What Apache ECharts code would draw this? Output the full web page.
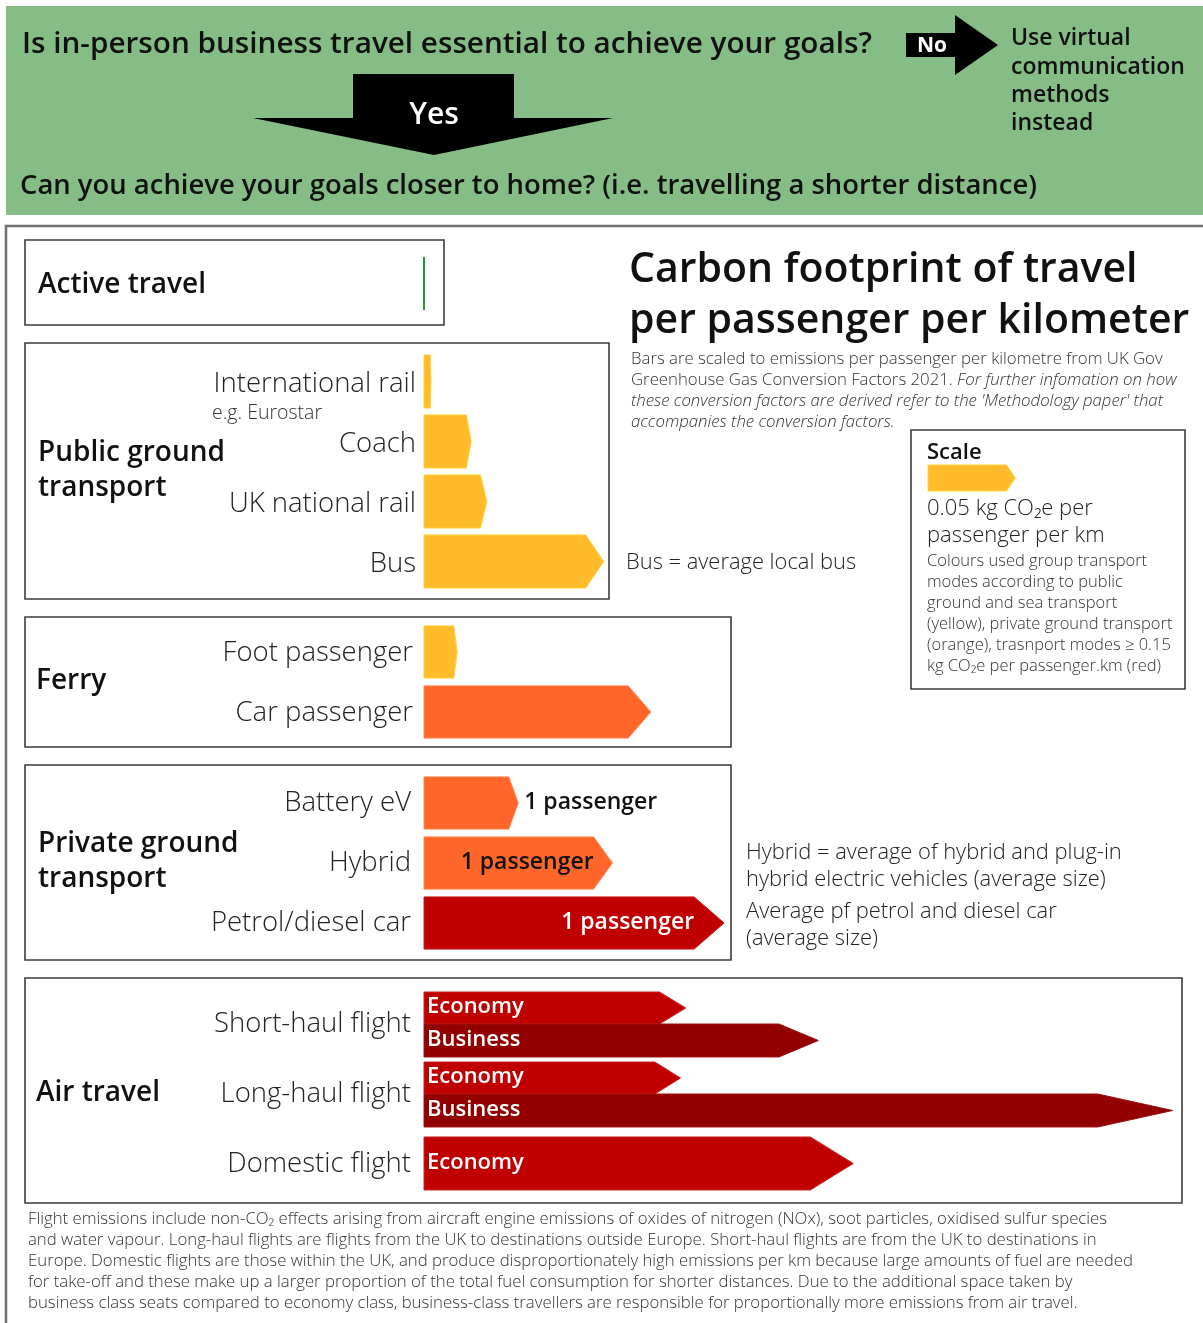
<!DOCTYPE html>
<html><head><meta charset="utf-8">
<script src="https://cdn.jsdelivr.net/npm/echarts/dist/echarts.min.js"></script>
<style>html,body{margin:0;padding:0;background:#fff}#c{width:1203px;height:1323px}</style>
</head><body><div id="c"></div><script>
// ---------------- DATA (kg CO2e per passenger-km) ----------------
const activeCats = ['Active travel'];
const activeVals = [0];
const publicCats = ['International rail', 'Coach', 'UK national rail', 'Bus'];
const publicVals = [0.004, 0.027, 0.036, 0.103];
const ferryCats = ['Foot passenger', 'Car passenger'];
const ferryVals = [0.019, 0.130];
const privateCats = ['Battery eV', 'Hybrid', 'Petrol/diesel car'];
const privateVals = [0.054, 0.108, 0.172];
const privateLabels = ['1 passenger', '1 passenger', '1 passenger'];
const airCats = ['Short-haul flight', 'Long-haul flight', 'Domestic flight'];
const airEconomy = [0.150, 0.147, 0.246];
const airBusiness = [0.226, 0.429, null];
const scaleCats = ['Scale'];
const scaleVals = [0.05];

// ---------------- STYLE ----------------
const FONT = '"Open Sans", "Noto Sans", sans-serif';
const YELLOW = '#FFBB2A', ORANGE = '#FF6629', RED = '#C00000', DARK = '#920000', GREEN = '#1E9B2A';
const publicColors = [YELLOW, YELLOW, YELLOW, YELLOW];
const ferryColors = [YELLOW, ORANGE];
const privateColors = [ORANGE, ORANGE, RED];
const privateLabelPos = ['outside', 'inside', 'inside'];
const privateLabelColors = ['#111', '#111', '#fff'];
const PX_PER_KG = 1745;
const GW = 770;            // main grids width (px)
const SW = 250;            // scale grid width (px)
const strokeOf = c => c === YELLOW ? '#FFD23A' : c === ORANGE ? '#FF8650' : c === RED ? '#CC2020' : '#A01010';

function arrowPts(x0, x1, top, bot) {
  const L = x1 - x0, xb = x0 + 0.9 * L, mid = (top + bot) / 2;
  return [[x0, top], [xb, top], [x1, mid], [xb, bot], [x0, bot]];
}
function txt(text, x, y, size, weight, fill, align, noShift) {
  return {
    text: text, x: x, y: y + (noShift ? 0 : 0.07 * size), fill: fill, fontSize: size, fontWeight: weight, fontFamily: FONT,
    align: align || 'left', verticalAlign: 'middle', textAlign: align || 'left', textVerticalAlign: 'middle'
  };
}
function makeRender(cfg) {
  return function (params, api) {
    const v = api.value(0), c = api.value(1);
    if (v == null || isNaN(v)) return null;
    const p0 = api.coord([0, c]), p1 = api.coord([v, c]);
    const band = api.size([0, 1])[1];
    let top, bot;
    if (cfg.slot) { const s = cfg.slot(c, p0[1], band); top = s[0]; bot = s[1]; }
    else { const h = band * cfg.fill; top = p0[1] - h / 2; bot = p0[1] + h / 2; }
    const color = cfg.colors ? cfg.colors[c] : cfg.color;
    const children = [];
    if (v === 0) {
      children.push({ type: 'line', shape: { x1: p0[0], y1: top, x2: p0[0], y2: bot }, style: { stroke: color, lineWidth: 2 } });
    } else {
      children.push({ type: 'polygon', shape: { points: arrowPts(p0[0], p1[0], top, bot) },
        style: { fill: color, stroke: strokeOf(color), lineWidth: 1 } });
    }
    const mid = (top + bot) / 2;
    if (cfg.labels && cfg.labels[c]) {
      const L = p1[0] - p0[0];
      if (cfg.labelPos[c] === 'outside') {
        children.push({ type: 'text', style: txt(cfg.labels[c], p1[0] + 6, mid - 1, 23, 600, cfg.labelColors[c], 'left', true) });
      } else {
        children.push({ type: 'text', style: txt(cfg.labels[c], p0[0] + 0.9 * L, mid - 1, 23, 600, cfg.labelColors[c], 'right', true) });
      }
    }
    if (cfg.name) {
      children.push({ type: 'text', style: txt(cfg.name, p0[0] + 3, mid - 1, 22, 600, '#fff', 'left', true) });
    }
    return { type: 'group', children: children };
  };
}

const grids = [
  { left: 424, width: GW, top: 257, height: 53 },      // active
  { left: 424, width: GW, top: 351.5, height: 240 },   // public
  { left: 424, width: GW, top: 622, height: 120 },     // ferry
  { left: 424, width: GW, top: 773, height: 180 },     // private
  { left: 424, width: GW, top: 989, height: 210 },     // air
  { left: 928, width: SW, top: 465, height: 26 }       // scale
];
const catLists = [activeCats, publicCats, ferryCats, privateCats, airCats, scaleCats];
const margins = [0, 8, 11, 13, 13, 0];
const labelPadTop = [0, 6, 2, 1, 0, 0];
const xAxes = grids.map((g, k) => ({ type: 'value', gridIndex: k, min: 0, max: g.width / PX_PER_KG, show: false }));
const yAxes = grids.map((g, k) => ({
  type: 'category', gridIndex: k, data: catLists[k], inverse: true,
  axisLine: { show: false }, axisTick: { show: false }, splitLine: { show: false },
  axisLabel: {
    show: k >= 1 && k <= 4, margin: margins[k],
    formatter: v => '{a|' + v + '}',
    rich: { a: { padding: [labelPadTop[k], 0, 0, 0], fontSize: 27.5, fontWeight: 300, fontFamily: FONT, color: '#222' } },
    fontSize: 27.5, fontWeight: 300, fontFamily: FONT, color: '#222'
  }
}));
function ser(k, vals, cfg, name) {
  return {
    type: 'custom', name: name, coordinateSystem: 'cartesian2d', xAxisIndex: k, yAxisIndex: k,
    encode: { x: 0, y: 1 }, clip: false, z: 5,
    data: vals.map((v, i) => [v, i]).filter(d => d[0] != null),
    renderItem: makeRender(cfg)
  };
}
const series = [
  ser(0, activeVals, { colors: [GREEN], fill: 1 }),
  ser(1, publicVals, { colors: publicColors, fill: 0.885 }),
  ser(2, ferryVals, { colors: ferryColors, fill: 0.87 }),
  ser(3, privateVals, { colors: privateColors, fill: 0.87, labels: privateLabels, labelPos: privateLabelPos, labelColors: privateLabelColors }),
  ser(4, airEconomy, { color: RED, name: 'Economy',
    slot: (c, cy, band) => airBusiness[c] != null ? [cy - 0.457 * band, cy] : [cy - 0.386 * band, cy + 0.371 * band] }, 'Economy'),
  ser(4, airBusiness, { color: DARK, name: 'Business', slot: (c, cy, band) => [cy, cy + 0.471 * band] }, 'Business'),
  ser(5, scaleVals, { colors: [YELLOW], fill: 1 })
];

// ---------------- GRAPHICS (layout, boxes, text) ----------------
function T(text, x, y, size, weight, fill, extra) {
  return { type: 'text', z: 10, style: Object.assign(txt(text, x, y, size, weight, fill || '#111', 'left'), extra || {}) };
}
function box(x1, y1, x2, y2, color, lw) {
  return { type: 'rect', z: 1, shape: { x: x1, y: y1, width: x2 - x1, height: y2 - y1 }, style: { fill: null, stroke: color || '#3c3c3c', lineWidth: lw || 1.6 } };
}
const grey = '#333';
const SUB = 16.75, FOOT = 16.75, NOTE = 21.9;
const it = { fontSize: SUB, fontWeight: 300, fontStyle: 'italic', fontFamily: FONT, fill: grey, color: grey };
const nm = { fontSize: SUB, fontWeight: 300, fontFamily: FONT, fill: grey, color: grey };
const graphics = [
  { type: 'rect', z: 0, shape: { x: 6, y: 6, width: 1197, height: 209 }, style: { fill: '#86BC86' } },
  { type: 'polygon', z: 2, shape: { points: [[353, 74], [514, 74], [514, 118], [613, 118], [434, 155], [253, 118], [353, 118]] }, style: { fill: '#000' } },
  { type: 'polygon', z: 2, shape: { points: [[906, 33], [955, 33], [955, 15], [998, 45], [955, 75], [955, 57], [906, 57]] }, style: { fill: '#000' } },
  T('Is in-person business travel essential to achieve your goals?', 22, 42, 29.7, 600, '#111'),
  T('Yes', 434, 113, 30, 600, '#fff', { align: 'center', textAlign: 'center' }),
  T('No', 932, 45, 21, 700, '#fff', { align: 'center', textAlign: 'center' }),
  T('Use virtual', 1011, 37, 23, 600, '#111'),
  T('communication', 1011, 65.5, 23, 600, '#111'),
  T('methods', 1011, 94, 23, 600, '#111'),
  T('instead', 1011, 122, 23, 600, '#111'),
  T('Can you achieve your goals closer to home? (i.e. travelling a shorter distance)', 20, 184, 27.45, 600, '#111'),

  box(6, 226, 1206, 1330, '#707070', 2.5),
  box(25, 240, 444, 325),
  box(25, 343, 609, 599),
  box(25, 617, 731, 747),
  box(25, 765, 731, 960),
  box(25, 978, 1182, 1203),
  box(911, 430, 1185, 689),

  T('Active travel', 38, 283, 28, 600),
  T('Public ground', 38, 451, 28, 600),
  T('transport', 38, 486, 28, 600),
  T('Ferry', 36, 679, 28, 600),
  T('Private ground', 38, 842, 28, 600),
  T('transport', 38, 877, 28, 600),
  T('Air travel', 36, 1091, 28, 600),
  T('e.g. Eurostar', 212, 412, 19.5, 300, '#333'),

  T('Carbon footprint of travel', 629, 267, 41, 600, '#111'),
  T('per passenger per kilometer', 629, 318, 41, 600, '#111'),
  T('Bars are scaled to emissions per passenger per kilometre from UK Gov', 631, 358, SUB, 300, grey),
  { type: 'text', z: 10, style: Object.assign(txt('{n|Greenhouse Gas Conversion Factors 2021. }{i|For further infomation on how}', 631, 379, SUB, 300, grey, 'left'), { rich: { n: nm, i: it } }) },
  T('these conversion factors are derived refer to the \'Methodology paper\' that', 631, 400, SUB, 300, grey, { fontStyle: 'italic' }),
  T('accompanies the conversion factors.', 631, 421, SUB, 300, grey, { fontStyle: 'italic' }),

  T('Scale', 927, 451, 22, 600),
  T('0.05 kg CO\u2082e per', 927, 507, 22, 300, '#222'),
  T('passenger per km', 927, 534, 22, 300, '#222'),
  T('Colours used group transport', 927, 560, 16.5, 300, grey),
  T('modes according to public', 927, 581, 16.5, 300, grey),
  T('ground and sea transport', 927, 602, 16.5, 300, grey),
  T('(yellow), private ground transport', 927, 623, 16.5, 300, grey),
  T('(orange), trasnport modes \u2265 0.15', 927, 644, 16.5, 300, grey),
  T('kg CO\u2082e per passenger.km (red)', 927, 665, 16.5, 300, grey),

  T('Bus = average local bus', 626, 561, NOTE, 300, '#222'),
  T('Hybrid = average of hybrid and plug-in', 746, 851, NOTE, 300, '#222'),
  T('hybrid electric vehicles (average size)', 746, 878, NOTE, 300, '#222'),
  T('Average pf petrol and diesel car', 746, 910, NOTE, 300, '#222'),
  T('(average size)', 746, 937, NOTE, 300, '#222'),

  T('Flight emissions include non-CO\u2082 effects arising from aircraft engine emissions of oxides of nitrogen (NOx), soot particles, oxidised sulfur species', 28, 1218, FOOT, 300, grey),
  T('and water vapour. Long-haul flights are flights from the UK to destinations outside Europe. Short-haul flights are from the UK to destinations in', 28, 1239, FOOT, 300, grey),
  T('Europe. Domestic flights are those within the UK, and produce disproportionately high emissions per km because large amounts of fuel are needed', 28, 1260, FOOT, 300, grey),
  T('for take-off and these make up a larger proportion of the total fuel consumption for shorter distances. Due to the additional space taken by', 28, 1281, FOOT, 300, grey),
  T('business class seats compared to economy class, business-class travellers are responsible for proportionally more emissions from air travel.', 28, 1302, FOOT, 300, grey)
];

const chart = echarts.init(document.getElementById('c'), null, { renderer: 'canvas' });
chart.setOption({
  animation: false,
  backgroundColor: '#fff',
  grid: grids,
  xAxis: xAxes,
  yAxis: yAxes,
  series: series,
  graphic: { elements: graphics }
});
</script></body></html>
